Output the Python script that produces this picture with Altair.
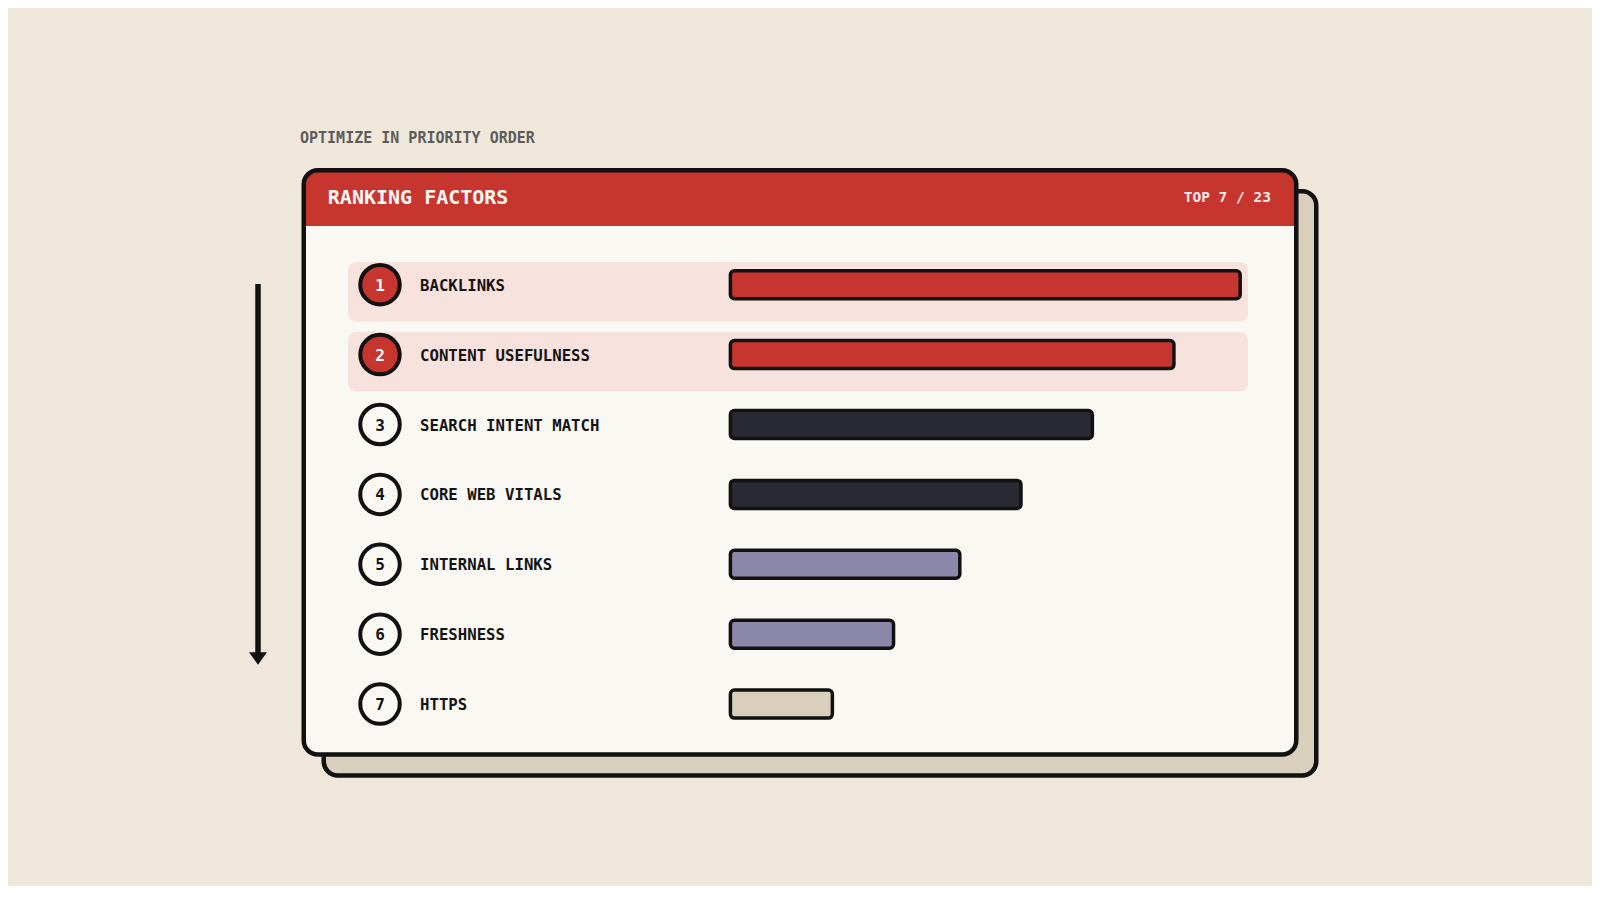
import altair as alt
import pandas as pd

# ---- data ----
ranks = [1, 2, 3, 4, 5, 6, 7]
factors = ["BACKLINKS", "CONTENT USEFULNESS", "SEARCH INTENT MATCH", "CORE WEB VITALS",
           "INTERNAL LINKS", "FRESHNESS", "HTTPS"]
scores = [100, 87, 71, 57, 45, 32, 20]
tiers = ["top", "top", "high", "high", "mid", "mid", "low"]
tier_names = ["top", "high", "mid", "low"]
tier_colors = ["#C7352F", "#2A2A35", "#8C88A9", "#D9CFBD"]

title_text = "RANKING FACTORS"
subtitle_text = "OPTIMIZE IN PRIORITY ORDER"
badge_text = "TOP 7 / 23"

df = pd.DataFrame({"rank": ranks, "factor": factors, "score": scores, "tier": tiers})
one = alt.Chart(pd.DataFrame({"k": [0]}))
base = alt.Chart(df)

BG = "#F0E7DB"
CARD = "#FAF8F3"
INK = "#111111"
RED = "#C7352F"
PINK = "#F8E2DE"
SHADOW = "#D9CFBD"
FONT = "DejaVu Sans Mono"

yscale = alt.Scale(domain=[1, 7], range=[276.7, 696.1], padding=0, nice=False, zero=False)
xscale = alt.Scale(domain=[0, 100], range=[722.4, 1232.2], padding=0, nice=False)
Y = alt.Y("rank:Q", scale=yscale, axis=None)

# ---- card decoration ----
L, T, R, B = 295.75, 162.25, 1288.25, 746.5
shadow = one.mark_rect(fill=SHADOW, stroke=INK, strokeWidth=4.5, cornerRadius=14).encode(
    x=alt.value(L + 20), x2=alt.value(R + 20), y=alt.value(T + 21), y2=alt.value(B + 21))
card = one.mark_rect(fill=CARD, cornerRadius=14).encode(
    x=alt.value(L), x2=alt.value(R), y=alt.value(T), y2=alt.value(B))
header = one.mark_rect(fill=RED, cornerRadiusTopLeft=14, cornerRadiusTopRight=14).encode(
    x=alt.value(L), x2=alt.value(R), y=alt.value(T), y2=alt.value(218))
outline = one.mark_rect(fill=CARD, fillOpacity=0, stroke=INK, strokeWidth=4.5, cornerRadius=14).encode(
    x=alt.value(L), x2=alt.value(R), y=alt.value(T), y2=alt.value(B))

title = one.mark_text(font=FONT, fontSize=20, fontWeight="bold", color="#FFF8F4",
                      align="left", baseline="middle").encode(
    x=alt.value(319.8), y=alt.value(189.5), text=alt.value(title_text))
badge = one.mark_text(font=FONT, fontSize=14.5, fontWeight="bold", color="#FFFFFF", opacity=0.9,
                      align="right", baseline="middle").encode(
    x=alt.value(1263), y=alt.value(190), text=alt.value(badge_text))
subtitle = one.mark_text(font=FONT, fontSize=15, fontWeight="bold", color="#5C5C5C",
                         align="left", baseline="middle").encode(
    x=alt.value(292), y=alt.value(130), text=alt.value(subtitle_text))

arrow_line = one.mark_rule(stroke=INK, strokeWidth=5.5).encode(
    x=alt.value(250), y=alt.value(276), y2=alt.value(646))
arrow_head = one.mark_point(shape="M-1,-0.7L1,-0.7L0,0.7Z", size=324, filled=True,
                            fill=INK, strokeWidth=0, opacity=1).encode(
    x=alt.value(250), y=alt.value(650.5))

# ---- data layers ----
hl = base.transform_filter("datum.rank <= 2").transform_calculate(
    top="datum.rank - 0.325", bot="datum.rank + 0.527"
).mark_rect(fill=PINK, cornerRadius=8).encode(
    x=alt.value(340), x2=alt.value(1240),
    y=alt.Y("top:Q", scale=yscale, axis=None), y2="bot:Q")

bars = base.mark_bar(orient="horizontal", size=28, stroke=INK, strokeWidth=3.5, cornerRadius=4).encode(
    x=alt.X("score:Q", scale=xscale, axis=None, stack=None),
    y=Y,
    color=alt.Color("tier:N", scale=alt.Scale(domain=tier_names, range=tier_colors), legend=None))

circles = base.mark_circle(size=1560, stroke=INK, strokeWidth=4, opacity=1).encode(
    x=alt.value(372), y=Y,
    fill=alt.condition("datum.rank <= 2", alt.value(RED), alt.value(CARD)))

nums = base.mark_text(font=FONT, fontSize=16, fontWeight="bold", align="center",
                      baseline="middle", dy=1).encode(
    x=alt.value(372), y=Y, text=alt.Text("rank:Q", format="d"),
    color=alt.condition("datum.rank <= 2", alt.value("#FFFFFF"), alt.value(INK)))

labels = base.mark_text(font=FONT, fontSize=15.7, fontWeight="bold", align="left",
                        baseline="middle", color="#141414", dy=1).encode(
    x=alt.value(412), y=Y, text="factor:N")

chart = alt.layer(
    shadow, card, header, hl, bars, circles, nums, labels, outline,
    title, badge, subtitle, arrow_line, arrow_head
).properties(
    width=1584, height=878, padding=0,
    autosize=alt.AutoSizeParams(type="none"), background=BG
).configure_view(strokeWidth=0)

chart.save("out.html", embed_options={"renderer": "svg", "actions": False})
